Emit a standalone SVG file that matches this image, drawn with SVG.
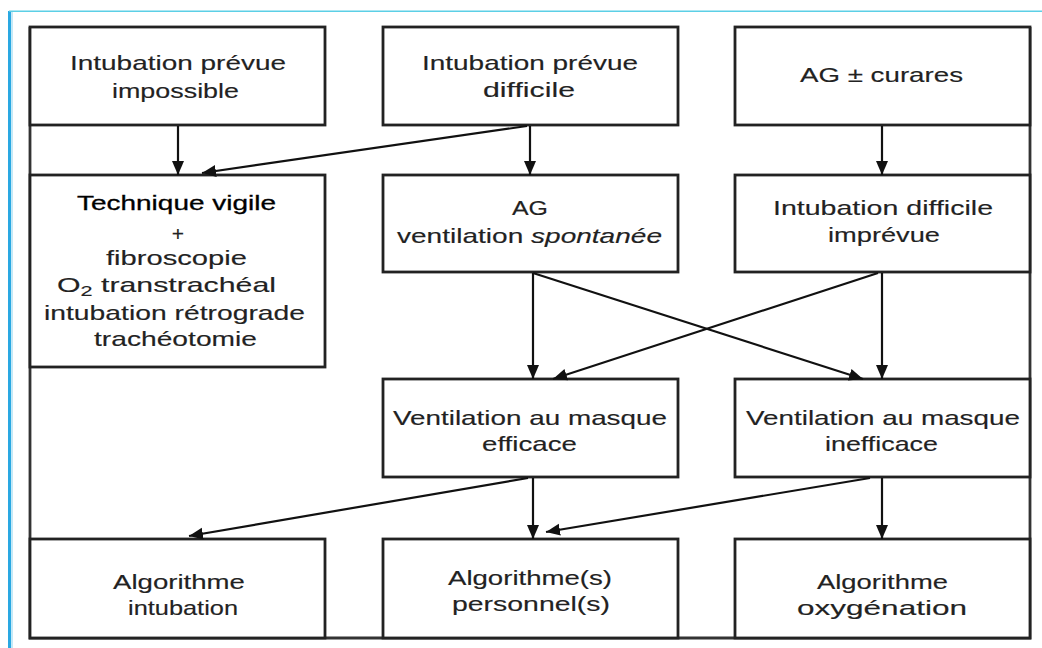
<svg xmlns="http://www.w3.org/2000/svg" width="1042" height="648" viewBox="0 0 1042 648">
<style>
.box{fill:#fff;stroke:#222;stroke-width:2.8}
.frame{fill:none;stroke:#333;stroke-width:2.8}
.t{font-family:"Liberation Sans",Arial,sans-serif;font-size:21px;fill:#222;stroke:#222;stroke-width:0.15}
.c{stroke:#111;stroke-width:2.2;fill:none;marker-end:url(#ah)}
</style>
<defs>
<marker id="ah" markerUnits="userSpaceOnUse" markerWidth="15" markerHeight="13" refX="14" refY="6" orient="auto">
<path d="M0,0 L14,6 L0,12 Z" fill="#111"/>
</marker>
</defs>
<rect x="0" y="0" width="1042" height="648" fill="#fff"/>
<rect x="8" y="11" width="3" height="637" fill="#2aa8e2"/>
<rect x="11" y="12" width="2" height="636" fill="#c4e9f7"/>
<rect x="9" y="10.5" width="1033" height="1.5" fill="#5ccfe6"/>
<path class="frame" d="M30,27 V638 H1030 V27"/>

<g id="n1"><rect class="box" x="30" y="27" width="295" height="98"/>
<text class="t" x="70" y="70" textLength="216" lengthAdjust="spacingAndGlyphs">Intubation prévue</text>
<text class="t" x="112" y="98" textLength="127" lengthAdjust="spacingAndGlyphs">impossible</text></g>

<g id="n2"><rect class="box" x="383" y="27" width="295" height="98"/>
<text class="t" x="422" y="70" textLength="216" lengthAdjust="spacingAndGlyphs">Intubation prévue</text>
<text class="t" x="483" y="97" textLength="92" lengthAdjust="spacingAndGlyphs">difficile</text></g>

<g id="n3"><rect class="box" x="735" y="27" width="295" height="98"/>
<text class="t" x="800" y="82" textLength="163" lengthAdjust="spacingAndGlyphs">AG ± curares</text></g>

<g id="n4"><rect class="box" x="30" y="175" width="295" height="192"/>
<text class="t" x="77" y="210" textLength="199" lengthAdjust="spacingAndGlyphs" style="fill:#000;stroke:#000;stroke-width:0.3">Technique vigile</text>
<text class="t" x="178" y="241" text-anchor="middle">+</text>
<text class="t" x="106" y="265" textLength="141" lengthAdjust="spacingAndGlyphs">fibroscopie</text>
<text class="t" x="57" y="292" textLength="219" lengthAdjust="spacingAndGlyphs">O<tspan font-size="15" dy="4">2</tspan><tspan dy="-4"> transtrachéal</tspan></text>
<text class="t" x="44" y="320" textLength="261" lengthAdjust="spacingAndGlyphs">intubation rétrograde</text>
<text class="t" x="94" y="346" textLength="163" lengthAdjust="spacingAndGlyphs">trachéotomie</text></g>

<g id="n5"><rect class="box" x="383" y="175" width="295" height="97"/>
<text class="t" x="512" y="215" textLength="36" lengthAdjust="spacingAndGlyphs">AG</text>
<text class="t" x="397" y="243" textLength="265" lengthAdjust="spacingAndGlyphs">ventilation <tspan font-style="italic">spontanée</tspan></text></g>

<g id="n6"><rect class="box" x="735" y="175" width="295" height="97"/>
<text class="t" x="773" y="215" textLength="220" lengthAdjust="spacingAndGlyphs">Intubation difficile</text>
<text class="t" x="828" y="242" textLength="112" lengthAdjust="spacingAndGlyphs">imprévue</text></g>

<g id="n7"><rect class="box" x="383" y="379" width="295" height="98"/>
<text class="t" x="393" y="425" textLength="274" lengthAdjust="spacingAndGlyphs">Ventilation au masque</text>
<text class="t" x="482" y="451" textLength="95" lengthAdjust="spacingAndGlyphs">efficace</text></g>

<g id="n8"><rect class="box" x="735" y="379" width="295" height="98"/>
<text class="t" x="746" y="425" textLength="274" lengthAdjust="spacingAndGlyphs">Ventilation au masque</text>
<text class="t" x="825" y="451" textLength="113" lengthAdjust="spacingAndGlyphs">inefficace</text></g>

<g id="n9"><rect class="box" x="30" y="539" width="295" height="99"/>
<text class="t" x="113" y="589" textLength="132" lengthAdjust="spacingAndGlyphs">Algorithme</text>
<text class="t" x="128" y="615" textLength="110" lengthAdjust="spacingAndGlyphs">intubation</text></g>

<g id="n10"><rect class="box" x="383" y="539" width="295" height="99"/>
<text class="t" x="448" y="585" textLength="164" lengthAdjust="spacingAndGlyphs">Algorithme(s)</text>
<text class="t" x="452" y="611" textLength="158" lengthAdjust="spacingAndGlyphs">personnel(s)</text></g>

<g id="n11"><rect class="box" x="735" y="539" width="295" height="99"/>
<text class="t" x="817" y="589" textLength="131" lengthAdjust="spacingAndGlyphs">Algorithme</text>
<text class="t" x="797" y="615" textLength="170" lengthAdjust="spacingAndGlyphs">oxygénation</text></g>

<g id="connectors">
<line class="c" x1="178" y1="126" x2="178" y2="175"/>
<line class="c" x1="530" y1="126" x2="530" y2="175"/>
<line class="c" x1="527" y1="126" x2="202" y2="173"/>
<line class="c" x1="882" y1="126" x2="882" y2="175"/>
<line class="c" x1="533" y1="273" x2="533" y2="379"/>
<line class="c" x1="533" y1="273" x2="863" y2="379"/>
<line class="c" x1="882" y1="273" x2="882" y2="379"/>
<line class="c" x1="878" y1="273" x2="553" y2="379"/>
<line class="c" x1="533" y1="478" x2="533" y2="539"/>
<line class="c" x1="528" y1="478" x2="189" y2="536"/>
<line class="c" x1="882" y1="478" x2="882" y2="539"/>
<line class="c" x1="870" y1="478" x2="546" y2="532"/>
</g>
</svg>
